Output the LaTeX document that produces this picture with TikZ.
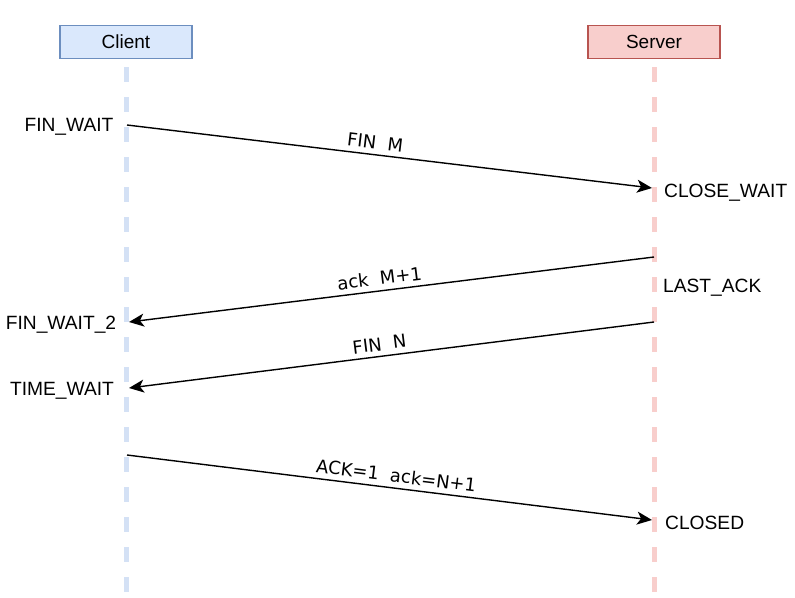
\documentclass[tikz,border=0pt]{standalone}
\usepackage{fontspec}
\setmainfont{Liberation Sans}
\newfontfamily\handfont{DejaVu Sans}
\usetikzlibrary{arrows.meta}
\definecolor{cfill}{HTML}{DAE8FC}
\definecolor{cline}{HTML}{D4E1F5}
\definecolor{cdraw}{HTML}{6C8EBF}
\definecolor{sfill}{HTML}{F8CECC}
\definecolor{sdraw}{HTML}{B85450}
\begin{document}
\begin{tikzpicture}[x=1pt,y=-1pt,
  actor/.style={draw, line width=1.2pt, minimum width=132pt, minimum height=33pt, inner sep=0pt, font=\fontsize{19}{21}\selectfont},
  lifeline/.style={line width=5pt, dash pattern=on 15pt off 15pt},
  msg/.style={line width=1.4pt, -{Stealth[length=15pt,width=13pt,inset=4pt]}},
  state/.style={font=\fontsize{19.2}{21}\selectfont, inner sep=0pt},
  lbl/.style={font=\handfont\fontsize{18}{20}\selectfont, inner sep=0pt, above=5pt}]
\useasboundingbox (0,0) rectangle (795,597);
\node[actor, fill=cfill, draw=cdraw] (client) at (126,42) {Client};
\node[actor, fill=sfill, draw=sdraw] (server) at (654,42) {Server};
\coordinate (cl0) at (126.5,67);
\coordinate (cl1) at (126.5,592);
\coordinate (sl0) at (654.5,67);
\coordinate (sl1) at (654.5,592);
\draw[lifeline, draw=cline] (cl0) -- (cl1);
\draw[lifeline, draw=sfill] (sl0) -- (sl1);
% messages
\coordinate (a1) at (127,125); \coordinate (b1) at (652,188);
\coordinate (a2) at (654,257); \coordinate (b2) at (129,322);
\coordinate (a3) at (654,322); \coordinate (b3) at (129,388);
\coordinate (a4) at (127,455); \coordinate (b4) at (652,520);
\draw[msg] (a1) -- (b1) node[pos=0.47, lbl, sloped] (l1) {FIN\ \ M};
\draw[msg] (a2) -- (b2) node[pos=0.52, lbl, sloped] (l2) {ack\ \ M+1};
\draw[msg] (a3) -- (b3) node[pos=0.52, lbl, sloped] (l3) {FIN\ \ N};
\draw[msg] (a4) -- (b4) node[pos=0.51, lbl, sloped] (l4) {ACK=1\ \ ack=N+1};
% states
\node[state] (s1) at (69,127) {FIN\_WAIT};
\node[state, anchor=west] (s2) at (664,193) {CLOSE\_WAIT};
\node[state, anchor=west] (s3) at (663,288) {LAST\_ACK};
\node[state] (s4) at (61,325) {FIN\_WAIT\_2};
\node[state] (s5) at (62,391) {TIME\_WAIT};
\node[state, anchor=west] (s6) at (665,523) {CLOSED};
\end{tikzpicture}
\end{document}
